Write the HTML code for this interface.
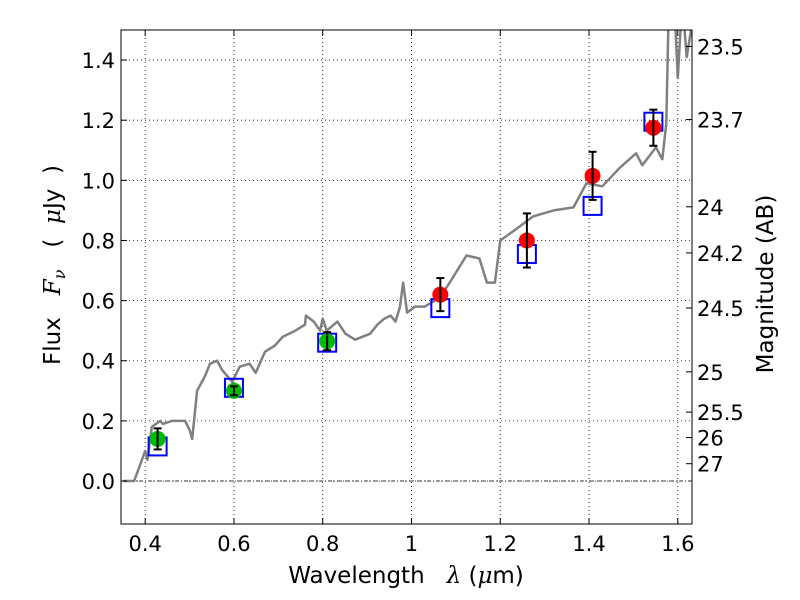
<!DOCTYPE html>
<html><head><meta charset="utf-8"><style>
body{margin:0;background:#fff;}
svg{display:block;font-family:"DejaVu Sans",sans-serif;}
</style></head><body>
<svg id="c" width="800" height="600"></svg>
<script>
const specLam=[0.35,0.375,0.39,0.4,0.405,0.415,0.434,0.44,0.46,0.49,0.5,0.506,0.517,0.535,0.546,0.562,0.573,0.596,0.613,0.635,0.649,0.67,0.692,0.71,0.738,0.76,0.762,0.78,0.794,0.8,0.809,0.833,0.851,0.873,0.907,0.923,0.939,0.953,0.964,0.974,0.981,0.99,1.008,1.03,1.064,1.086,1.124,1.153,1.17,1.188,1.2,1.238,1.274,1.32,1.365,1.394,1.43,1.468,1.506,1.52,1.551,1.565,1.574,1.58,1.592,1.6,1.61,1.62,1.63];
const specFlux=[0.0,0.0,0.06,0.1,0.07,0.18,0.2,0.19,0.2,0.2,0.17,0.14,0.3,0.35,0.39,0.4,0.37,0.33,0.38,0.39,0.36,0.43,0.45,0.48,0.5,0.52,0.55,0.53,0.5,0.54,0.5,0.53,0.49,0.47,0.49,0.52,0.54,0.55,0.53,0.58,0.66,0.56,0.58,0.58,0.61,0.66,0.75,0.74,0.66,0.66,0.8,0.84,0.88,0.9,0.91,0.99,0.98,1.04,1.09,1.05,1.11,1.07,1.19,1.6,1.6,1.34,1.6,1.41,1.5];
const ptLam=[0.428,0.6,0.81,1.065,1.26,1.408,1.545];
const modelFlux=[0.115,0.31,0.46,0.575,0.755,0.915,1.195];
const obsFlux=[0.14,0.30,0.465,0.62,0.80,1.015,1.175];
const obsErr=[0.035,0.015,0.03,0.055,0.09,0.08,0.06];
const obsColor=['#00bb00','#00bb00','#00bb00','#ff0000','#ff0000','#ff0000','#ff0000'];
const xTicks=[0.4,0.6,0.8,1.0,1.2,1.4,1.6];
const xTickLabels=['0.4','0.6','0.8','1','1.2','1.4','1.6'];
const yTicks=[0,0.2,0.4,0.6,0.8,1.0,1.2,1.4];
const yTickLabels=['0.0','0.2','0.4','0.6','0.8','1.0','1.2','1.4'];
const magTicks=[23.5,23.7,24,24.2,24.5,25,25.5,26,27];
const magLabels=['23.5','23.7','24','24.2','24.5','25','25.5','26','27'];

const L=121,R=692,T=30,B=524;
const xmin=0.3455,xmax=1.632,ymin=-0.143,ymax=1.5;
const X=v=>L+(v-xmin)/(xmax-xmin)*(R-L);
const Y=v=>B-(v-ymin)/(ymax-ymin)*(B-T);
const NS='http://www.w3.org/2000/svg';
const svg=document.getElementById('c');
function mk(tag,attrs,parent){const e=document.createElementNS(NS,tag);for(const k in attrs)e.setAttribute(k,attrs[k]);(parent||svg).appendChild(e);return e;}
const defs=mk('defs',{});const cp=mk('clipPath',{id:'clip'},defs);mk('rect',{x:L,y:T,width:R-L,height:B-T},cp);
const grid=mk('g',{'stroke':'#000','stroke-width':0.8,'stroke-dasharray':'1,3','clip-path':'url(#clip)'});


xTicks.forEach(v=>mk('line',{x1:X(v),x2:X(v),y1:T,y2:B},grid));
yTicks.forEach(v=>mk('line',{x1:L,x2:R,y1:Y(v),y2:Y(v)},grid));
const zl=mk('line',{x1:L,x2:R,y1:Y(0),y2:Y(0),stroke:'#000','stroke-width':0.8,'stroke-dasharray':'4,2,1,2'});


let d='';specLam.forEach((l,i)=>{d+=(i?'L':'M')+X(l).toFixed(1)+','+Y(specFlux[i]).toFixed(1);});
const sp=mk('path',{d:d,fill:'none',stroke:'#808080','stroke-width':2.5,'clip-path':'url(#clip)','stroke-linejoin':'round'});


ptLam.forEach((l,i)=>{
  const b=mk('rect',{x:X(l)-9,y:Y(modelFlux[i])-9,width:18,height:18,fill:'none',stroke:'#0000ff','stroke-width':2});
  
  
  const c=mk('circle',{cx:X(l),cy:Y(obsFlux[i]),r:8,fill:obsColor[i]});
  
  
  const g=mk('g',{stroke:'#000','stroke-width':2});
  
  
  const y1=Y(obsFlux[i]+obsErr[i]),y2=Y(obsFlux[i]-obsErr[i]);
  mk('line',{x1:X(l),x2:X(l),y1:y1,y2:y2},g);
  mk('line',{x1:X(l)-4,x2:X(l)+4,y1:y1,y2:y1},g);
  mk('line',{x1:X(l)-4,x2:X(l)+4,y1:y2,y2:y2},g);
});
const fr=mk('rect',{x:L,y:T,width:R-L,height:B-T,fill:'none',stroke:'#000','stroke-width':1});


xTicks.forEach((v,i)=>{
  mk('line',{x1:X(v),x2:X(v),y1:B,y2:B-6,stroke:'#000'});mk('line',{x1:X(v),x2:X(v),y1:T,y2:T+6,stroke:'#000'});
  const t=mk('text',{x:X(v),y:B+27,'font-size':21,'text-anchor':'middle'});t.textContent=xTickLabels[i];
  
  
});
yTicks.forEach((v,i)=>{
  mk('line',{x1:L,x2:L+6,y1:Y(v),y2:Y(v),stroke:'#000'});
  const t=mk('text',{x:L-6,y:Y(v)+8,'font-size':21,'text-anchor':'end'});t.textContent=yTickLabels[i];
  
  
});
magTicks.forEach((m,i)=>{
  const f=Math.pow(10,(23.9-m)/2.5);
  mk('line',{x1:R-6,x2:R,y1:Y(f),y2:Y(f),stroke:'#000'});
  const t=mk('text',{x:R+5,y:Y(f)+8,'font-size':21});t.textContent=magLabels[i];
  
  
});
</script>
<svg width="800" height="600" style="position:absolute;left:0;top:0;font-family:'DejaVu Sans',sans-serif">
<text x="406" y="583" font-size="23" text-anchor="middle" xml:space="preserve">Wavelength   <tspan font-family="DejaVu Serif" font-style="italic">λ</tspan> (<tspan font-family="DejaVu Serif" font-style="italic">μ</tspan>m)</text>
<text transform="translate(60,265) rotate(-90)" font-size="23" text-anchor="middle" xml:space="preserve">Flux   <tspan font-family="DejaVu Serif" font-style="italic">F</tspan><tspan font-family="DejaVu Serif" font-style="italic" font-size="16" dy="5">ν</tspan><tspan dy="-5">   (  </tspan><tspan font-family="DejaVu Serif" font-style="italic">μ</tspan>Jy  )</text>
<text transform="translate(773,284) rotate(-90)" font-size="23" text-anchor="middle">Magnitude (AB)</text>
</svg>
</body></html>
